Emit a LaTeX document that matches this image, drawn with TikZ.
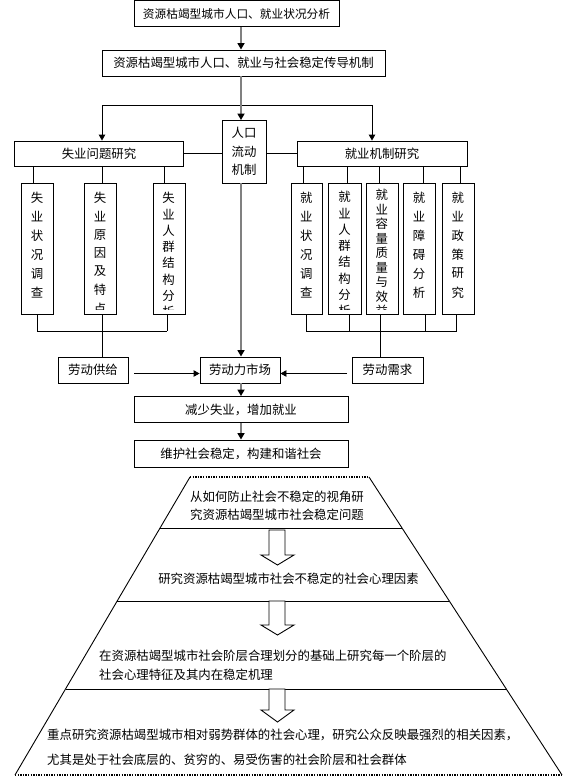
\documentclass[tikz,border=0pt]{standalone}
\usepackage{fontspec}
\newfontfamily\cjk{Noto Sans CJK SC}
\usetikzlibrary{arrows.meta,calc}
\newcommand\subbox[6]{%
  \node[box, minimum width={#3pt-#2pt}, minimum height=131pt, anchor=north west] (#1) at (#2,183) {};
  \begin{scope}
    \clip (#2+1,184) rectangle (#3-1,309.5);
    \foreach \ch [count=\i from 0] in {#6} \node (#1t\i) at ({(#2+#3)/2},{#4+#5*\i}) {\ch};
  \end{scope}
}
\begin{document}
\begin{tikzpicture}[x=1pt,y=-1pt,
  every node/.style={font=\cjk\fontsize{12.4}{15}\selectfont, inner sep=0pt, text=black},
  box/.style={draw=black, line width=0.9pt, fill=white},
  ln/.style={draw=black, line width=0.9pt},
  garr/.style={draw=gray, line width=1.8pt, -{Triangle[width=7pt,length=6.5pt,color=black]}},
  barr/.style={draw=black, line width=0.9pt, -{Triangle[width=6.5pt,length=6pt]}},
  dotl/.style={draw=black, line width=1.3pt, dash pattern=on 1.3pt off 1.3pt},
  blockarr/.style={draw=black, line width=0.9pt, fill=white}]
\fill[white] (0,0) rectangle (576,780);
\useasboundingbox (0,0) rectangle (576,780);

% top part
\node[box, minimum width=205pt, minimum height=26pt, font=\cjk\fontsize{11.7}{14}\selectfont] (top) at (236.5,13.7) {资源枯竭型城市人口、就业状况分析};
\node[box, minimum width=283pt, minimum height=26pt] (mech) at (243.5,63) {资源枯竭型城市人口、就业与社会稳定传导机制};
\node[box, minimum width=169pt, minimum height=25pt] (sy) at (99,153.5) {失业问题研究};
\node[box, minimum width=170pt, minimum height=25pt] (jy) at (382,153.5) {就业机制研究};
\node[box, minimum width=44pt, minimum height=62.5pt, align=center, font=\cjk\fontsize{12.4}{18.5}\selectfont] (rk) at (244,151.75) {人口\\流动\\机制};

\coordinate (sp) at (241,0);
\draw[garr] (top.south -| sp) -- (mech.north -| sp);
\coordinate (hl) at (102,105);
\coordinate (hr) at (372,105);
\draw[ln] (hl) -- (hr);
\draw[garr] (mech.south -| sp) -- (rk.north -| sp);
\draw[barr] (hl) -- (hl |- sy.north);
\draw[barr] (hr) -- (hr |- jy.north);
\draw[ln] (sy.east) -- (sy.east -| rk.west);
\draw[ln] (jy.west -| rk.east) -- (jy.west);

% sub boxes
\subbox{a1}{21}{53}{198}{18.9}{失,业,状,况,调,查}
\subbox{a2}{84}{116}{198}{18.4}{失,业,原,因,及,特,点}
\subbox{a3}{152.5}{184.5}{198}{16.3}{失,业,人,群,结,构,分,析}
\subbox{b1}{290.5}{322}{198}{18.9}{就,业,状,况,调,查}
\subbox{b2}{328}{361}{197}{16.3}{就,业,人,群,结,构,分,析}
\subbox{b3}{365.5}{398}{195}{14.5}{就,业,容,量,质,量,与,效,益}
\subbox{b4}{403}{435}{198}{18.9}{就,业,障,碍,分,析}
\subbox{b5}{441.5}{474}{198}{18.9}{就,业,政,策,研,究}

\foreach \xx/\nn in {33.5/a1, 102/a2, 164.5/a3}
  \draw[ln] (\xx,0 |- sy.south) -- (\xx,0 |- \nn.north);
\foreach \xx/\nn in {303.5/b1, 347/b2, 379/b3, 423/b4, 460.5/b5}
  \draw[ln] (\xx,0 |- jy.south) -- (\xx,0 |- \nn.north);

% labour row
\node[box, minimum width=70pt, minimum height=26pt] (gj) at (93,370) {劳动供给};
\node[box, minimum width=80pt, minimum height=26pt] (sc) at (240,370) {劳动力市场};
\node[box, minimum width=71pt, minimum height=26pt] (xq) at (387.5,370) {劳动需求};

\coordinate (jl) at (37,331);
\coordinate (jr) at (167,331);
\draw[ln] (jl) -- (jr);
\draw[ln] (jl |- a1.south) -- (jl);
\draw[ln] (jr |- a3.south) -- (jr);
\draw[ln] (102,0 |- a2.south) -- (102,0 |- gj.north);

\coordinate (kl) at (306,331);
\coordinate (kr) at (456.5,331);
\draw[ln] (kl) -- (kr);
\draw[ln] (kl |- b1.south) -- (kl);
\draw[ln] (349,0 |- b2.south) -- (349,331);
\draw[ln] (425.5,0 |- b4.south) -- (425.5,331);
\draw[ln] (kr |- b5.south) -- (kr);
\draw[ln] (380.5,0 |- b3.south) -- (380.5,0 |- xq.north);

\draw[garr] (rk.south -| sp) -- (sc.north -| sp);
\coordinate (la) at (134,373.5);
\draw[barr] (la) -- (la -| sc.west);
\coordinate (ra) at (347,373.5);
\draw[barr] (ra) -- (ra -| sc.east);

\node[box, minimum width=214pt, minimum height=26pt] (js) at (241,409.5) {减少失业，增加就业};
\node[box, minimum width=214pt, minimum height=27pt] (wh) at (241,453.5) {维护社会稳定，构建和谐社会};
\draw[garr] (sc.south -| sp) -- (js.north -| sp);
\draw[garr] (js.south -| sp) -- (wh.north -| sp);

% pyramid
\coordinate (tl) at (190,477);
\coordinate (tr) at (369,477);
\coordinate (bl) at (15,775);
\coordinate (br) at (562,775);
\draw[ln] (tl) -- (bl);
\draw[ln] (tr) -- (br);
\draw[dotl] (tl) -- (tr);
\draw[dotl] (bl) -- (br);
\foreach \t in {0.1711,0.4161,0.7114}
  \draw[ln] ($(tl)!\t!(bl)$) -- ($(tr)!\t!(br)$);

\foreach \a/\b/\c in {530/555/565, 601/625/635, 689/710/722}
  \filldraw[blockarr] (269,\a) -- (285,\a) -- (285,\b) -- (294,\b) -- (277.5,\c) -- (261,\b) -- (269,\b) -- cycle;

\node[anchor=west, align=left, font=\cjk\fontsize{12.4}{18}\selectfont] (p1) at (190,506) {从如何防止社会不稳定的视角研\\究资源枯竭型城市社会稳定问题};
\node (p2) at (288.5,579) {研究资源枯竭型城市社会不稳定的社会心理因素};
\node[anchor=west, align=left, font=\cjk\fontsize{12.4}{19}\selectfont] (p3) at (99,665.5) {在资源枯竭型城市社会阶层合理划分的基础上研究每一个阶层的\\社会心理特征及其内在稳定机理};
\node[anchor=west, align=left, font=\cjk\fontsize{12.4}{25}\selectfont] (p4) at (47,747.5) {重点研究资源枯竭型城市相对弱势群体的社会心理，研究公众反映最强烈的相关因素，\\尤其是处于社会底层的、贫穷的、易受伤害的社会阶层和社会群体};
\end{tikzpicture}
\end{document}
